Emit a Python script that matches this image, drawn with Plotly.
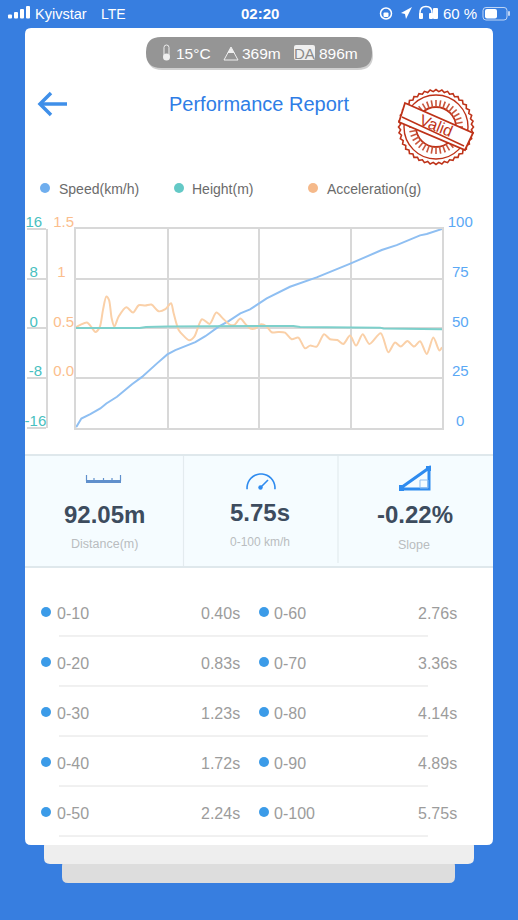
import math
import plotly.graph_objects as go

# ---- data ----
accel_t = [0, .068, .173, .236, .304, .372, .424, .477, .518, .56, .602, .67, .791, .896, .985, 1.089, 1.184, 1.299, 1.404, 1.493, 1.534, 1.613, 1.692, 1.781, 1.859, 1.98, 2.10, 2.205, 2.32, 2.425, 2.488, 2.582, 2.66, 2.739, 2.813, 2.907, 2.996, 3.074, 3.179, 3.284, 3.389, 3.493, 3.598, 3.677, 3.781, 3.897, 3.991, 4.106, 4.2, 4.305, 4.399, 4.504, 4.609, 4.787, 4.907, 5.012, 5.101, 5.206, 5.311, 5.405, 5.51, 5.614, 5.709, 5.75]
accel_g = [.51, .534, .557, .517, .463, .51, .685, .819, .786, .60, .517, .618, .712, .658, .732, .728, .739, .671, .692, .752, .651, .483, .423, .379, .416, .591, .544, .658, .591, .534, .534, .597, .544, .497, .497, .54, .517, .46, .463, .456, .389, .406, .298, .325, .315, .44, .389, .382, .342, .426, .325, .44, .342, .45, .258, .356, .315, .372, .315, .369, .241, .406, .275, .308]
speed_t = [0, .084, .225, .382, .477, .644, .88, 1.037, 1.273, 1.435, 1.561, 1.875, 2.032, 2.241, 2.398, 2.582, 2.734, 2.896, 2.996, 3.362, 3.781, 4.30, 4.803, 5.038, 5.405, 5.51, 5.75]
speed_kmh = [0, 4.5, 6.7, 9.6, 12.1, 15.5, 21.8, 25.5, 32.3, 36.8, 39, 43, 46, 50.8, 53.6, 57.5, 59.5, 62.9, 65, 70.9, 75.6, 82.4, 89.4, 91.9, 96.8, 97.5, 100]
height_t = [0, 1.0, 1.1, 1.435, 2.9, 3.415, 3.52, 4.30, 4.41, 4.776, 4.83, 5.405, 5.51, 5.75]
height_m = [.05, .05, .2, .27, .38, .38, .2, .2, .1, .1, -.05, -.1, -.16, -.16]

grid_t = [1.4375, 2.875, 4.3125]
speed_ticks = [0, 25, 50, 75, 100]
speed_labels = ["\u00a0\u00a00", "\u00a025", "\u00a050", "\u00a075", "100"]
accel_ticks = [-0.5, 0, 0.5, 1, 1.5]
accel_labels = ["", "0.0", "0.5", "1\u00a0\u00a0", "1.5"]
height_ticks = [-16, -8, 0, 8, 16]
height_labels = ["-16", "-8\u00a0", "0\u00a0\u00a0", "8\u00a0\u00a0", "16\u00a0"]

left_labels = ["0-10", "0-20", "0-30", "0-40", "0-50"]
left_times = ["0.40s", "0.83s", "1.23s", "1.72s", "2.24s"]
right_labels = ["0-60", "0-70", "0-80", "0-90", "0-100"]
right_times = ["2.76s", "3.36s", "4.14s", "4.89s", "5.75s"]

W, H = 518, 920
FONT = "Liberation Sans"
BLUE_BG = "#377EE0"
GRID = "#D8D8D8"
SPEED_C, HEIGHT_C, ACCEL_C = "#8FBFF2", "#7DD0CB", "#FAD0A8"
SPEED_T, HEIGHT_T, ACCEL_T = "#5AA8F5", "#48C0C0", "#FBBE8C"


def X(p):
    return p / W


def Y(p):
    return 1 - p / H


def path(points, close=False):
    s = "M" + " L".join(f"{X(a):.5f},{Y(b):.5f}" for a, b in points)
    return s + (" Z" if close else "")


def round_rect(x0, y0, x1, y1, r):
    return (f"M{X(x0+r):.5f},{Y(y0):.5f} L{X(x1-r):.5f},{Y(y0):.5f} Q{X(x1):.5f},{Y(y0):.5f} {X(x1):.5f},{Y(y0+r):.5f} "
            f"L{X(x1):.5f},{Y(y1-r):.5f} Q{X(x1):.5f},{Y(y1):.5f} {X(x1-r):.5f},{Y(y1):.5f} "
            f"L{X(x0+r):.5f},{Y(y1):.5f} Q{X(x0):.5f},{Y(y1):.5f} {X(x0):.5f},{Y(y1-r):.5f} "
            f"L{X(x0):.5f},{Y(y0+r):.5f} Q{X(x0):.5f},{Y(y0):.5f} {X(x0+r):.5f},{Y(y0):.5f} Z")


shapes, anns = [], []


def fill(d, color, line=None, lw=0, layer="below"):
    shapes.append(dict(type="path", path=d, xref="paper", yref="paper", fillcolor=color, layer=layer,
                       line=dict(color=line or color, width=lw)))


def stroke(d, color, lw, layer="below"):
    shapes.append(dict(type="path", path=d, xref="paper", yref="paper", layer=layer,
                       line=dict(color=color, width=lw)))


def circle(cx, cy, r, color=None, line=None, lw=0, layer="below"):
    shapes.append(dict(type="circle", xref="paper", yref="paper", x0=X(cx-r), x1=X(cx+r), y0=Y(cy+r), y1=Y(cy-r),
                       fillcolor=color or "rgba(0,0,0,0)", layer=layer, line=dict(color=line or "rgba(0,0,0,0)", width=lw)))


def text(s, x, y, size, color, anchor="left", bold=False, angle=0):
    anns.append(dict(text=f"<b>{s}</b>" if bold else s, x=X(x), y=Y(y), xref="paper", yref="paper", showarrow=False,
                     xanchor=anchor, yanchor="middle", textangle=angle, borderpad=0, borderwidth=0,
                     font=dict(family=FONT, size=size, color=color)))


# back cards
fill(round_rect(62, 860, 455, 883, 6), "#DDDDDD")
fill(round_rect(44, 840, 474, 864, 6), "#EEEEEE")
fill(round_rect(25, 28, 493, 845, 6), "#FFFFFF")

# status bar
for i, (bx, bt) in enumerate(zip([8, 14, 20, 26], [14.5, 12, 9, 6])):
    fill(round_rect(bx, bt, bx + 4, 18.5, 1), "#FFFFFF")
text("Kyivstar", 35, 13.5, 14.5, "#FFFFFF")
text("LTE", 101, 13.5, 14, "#FFFFFF")
text("02:20", 259.5, 13.5, 15, "#FFFFFF", "center", True)
circle(386, 13.5, 5.5, None, "#FFFFFF", 1.5)
fill(round_rect(383.5, 12.5, 388.5, 17, 1), "#FFFFFF")
fill(path([(401, 13), (412, 7), (406, 19), (405, 14)], True), "#FFFFFF")
stroke(f"M{X(420):.5f},{Y(18):.5f} L{X(420):.5f},{Y(13):.5f} Q{X(420):.5f},{Y(6.5):.5f} {X(426):.5f},{Y(6.5):.5f} Q{X(432):.5f},{Y(6.5):.5f} {X(432):.5f},{Y(13):.5f} L{X(432):.5f},{Y(18):.5f}", "#FFFFFF", 1.5)
fill(round_rect(419, 13, 423, 19, 1), "#FFFFFF")
fill(round_rect(429, 13, 433, 19, 1), "#FFFFFF")
fill(round_rect(433, 8, 438, 19, 1), "#FFFFFF")
text("60 %", 477, 13.5, 15, "#FFFFFF", "right")
fill(round_rect(483, 7.5, 507, 20, 3), "rgba(0,0,0,0)", "#BFD5F5", 1)
fill(round_rect(485, 9, 497, 18.5, 2), "#FFFFFF")
fill(round_rect(508, 11, 510, 16, 1), "#BFD5F5")

# condition pill
fill(round_rect(147, 40, 373, 70, 15), "rgba(120,120,120,0.35)")
fill(round_rect(146, 37, 372, 68, 15), "#959595")
fill(round_rect(164, 45, 169, 58, 2.5), "rgba(0,0,0,0)", "#EFEFEF", 1)
circle(166.5, 57, 3.5, "#EFEFEF")
text("15°C", 176, 53.5, 15.5, "#FFFFFF")
fill(path([(224, 60), (231, 47), (238, 60)], True), "rgba(0,0,0,0)", "#EFEFEF", 1)
fill(path([(227.5, 53), (231, 47), (234.5, 53)], True), "#EFEFEF")
text("369m", 242, 53.5, 15.5, "#FFFFFF")
fill(round_rect(294, 45, 315, 60, 2), "#EFEFEF")
text("DA", 304.5, 53, 15, "#8A8A8A", "center")
text("896m", 319, 53.5, 15.5, "#FFFFFF")

# header
stroke(path([(40, 104), (67, 104)]), "#3F8FE9", 3.5)
stroke(path([(51, 93), (40, 104), (51, 115)]), "#3F8FE9", 3.5)
text("Performance Report", 259, 104.5, 20, "#2F7DE6", "center")

# stamp
RED = "#BE3218"
sc, sy = 436, 127
gear = []
for k in range(80):
    a = 2 * math.pi * k / 80
    r = 37.5 if k % 2 == 0 else 35.5
    gear.append((sc + r * math.cos(a), sy + r * math.sin(a)))
fill(path(gear, True), "rgba(0,0,0,0)", RED, 1.6)
circle(sc, sy, 32, None, RED, 1.4)
circle(sc, sy, 20, None, RED, 1.8)
for k in range(36):
    a = 2 * math.pi * k / 36
    stroke(path([(sc + 20 * math.cos(a), sy + 20 * math.sin(a)), (sc + 27 * math.cos(a), sy + 27 * math.sin(a))]), "#C8553C", 1.6)
fill(path([(405, 103), (473, 133), (465, 150), (399, 122)], True), "#FFFFFF", RED, 1.8)
stroke(path([(402, 117), (464, 146)]), RED, 1.4)
text("Valid", 436, 125.5, 16, RED, "center", False, 22)

# legend
for cx, tx, col, lab in [(45, 59, "#6FAEEE", "Speed(km/h)"), (179, 192, "#64C9C6", "Height(m)"), (313, 327, "#F5B98A", "Acceleration(g)")]:
    circle(cx, 188, 5, col)
    text(lab, tx, 188.5, 14, "#6B6B6B")

# stats panel
fill(f"M{X(25):.5f},{Y(455):.5f} L{X(493):.5f},{Y(455):.5f} L{X(493):.5f},{Y(567):.5f} L{X(25):.5f},{Y(567):.5f} Z", "#F5FCFF")
stroke(path([(25, 455), (493, 455)]), "#DFE8EC", 2)
stroke(path([(25, 567), (493, 567)]), "#DFE8EC", 2)
stroke(path([(183.5, 456), (183.5, 566)]), "#E3EBEF", 1.2)
stroke(path([(338, 456), (338, 563)]), "#E3EBEF", 1.2)
text("92.05m", 104, 514.5, 24, "#3D4C5E", "center", True)
text("Distance(m)", 104, 544, 12.5, "#B9BDC0", "center")
text("5.75s", 260, 512, 24, "#3D4C5E", "center", True)
text("0-100 km/h", 260, 541.5, 12, "#B9BDC0", "center")
text("-0.22%", 415, 514.5, 24, "#3D4C5E", "center", True)
text("Slope", 414, 544.5, 12.5, "#B9BDC0", "center")
# ruler icon
fill(path([(86, 480), (121, 480), (121, 483), (86, 483)], True), "#6090CC")
for rx in [86.5, 94, 103.5, 112, 120.5]:
    stroke(path([(rx, 475 if rx in (86.5, 120.5) else 478), (rx, 481)]), "#6090CC", 1.2)
# gauge icon
arc = [(261 + 14 * math.cos(math.radians(a)), 488 - 14 * math.sin(math.radians(a))) for a in range(-5, 186, 10)]
stroke(path(arc), "#2E8BEF", 1.6)
stroke(path([(261, 487), (268, 480)]), "#2E8BEF", 1.6)
circle(260.5, 487.5, 2.2, "#2E8BEF")
# slope icon
stroke(path([(400, 488.5), (429, 468), (429, 489), (400, 489)]), "#2E8BEF", 3)
fill(round_rect(399, 485, 404, 491, 0), "#2E8BEF")
fill(round_rect(426, 466, 431, 471, 0), "#2E8BEF")
fill(path([(420, 480), (428, 480), (428, 488), (420, 488)], True), "rgba(0,0,0,0)", "#8FBEF0", 1)

# timing table
for i, y in enumerate([613, 663, 713, 763, 813]):
    circle(46, y - 1, 5, "#3B9BE8")
    circle(264, y - 1, 5, "#3B9BE8")
    text(left_labels[i], 56.5, y, 16, "#9C9C9C")
    text(left_times[i], 240, y, 16, "#9C9C9C", "right")
    text(right_labels[i], 274, y, 16, "#9C9C9C")
    text(right_times[i], 457, y, 16, "#9C9C9C", "right")
    stroke(path([(59, y + 23), (428, y + 23)]), "#E2E2E2", 1)

fig = go.Figure()
fig.add_trace(go.Scatter(x=speed_t, y=speed_kmh, yaxis="y", mode="lines", name="Speed(km/h)",
                         line=dict(color=SPEED_C, width=2)))
fig.add_trace(go.Scatter(x=accel_t, y=accel_g, yaxis="y2", mode="lines", name="Acceleration(g)",
                         line=dict(color=ACCEL_C, width=2, shape="spline", smoothing=0.8)))
fig.add_trace(go.Scatter(x=height_t, y=height_m, yaxis="y3", mode="lines", name="Height(m)",
                         line=dict(color=HEIGHT_C, width=2)))

dom = [Y(427.5), Y(229)]
fig.update_layout(
    width=W, height=H, margin=dict(l=0, r=0, t=0, b=0, pad=0), autosize=False,
    paper_bgcolor=BLUE_BG, plot_bgcolor="rgba(0,0,0,0)", showlegend=False, hovermode=False,
    font=dict(family=FONT), shapes=shapes, annotations=anns,
    xaxis=dict(automargin=False, domain=[X(76), X(442)], range=[0, 5.75], tickmode="array", tickvals=grid_t, showticklabels=False,
               ticks="", showgrid=True, gridcolor=GRID, gridwidth=1.5, zeroline=False, showline=True,
               linecolor=GRID, linewidth=1.5, mirror=True),
    yaxis=dict(automargin=False, domain=dom, range=[0, 100], side="right", tickmode="array", tickvals=speed_ticks, ticktext=speed_labels,
               ticks="", showgrid=True, gridcolor=GRID, gridwidth=1.5, zeroline=False, showline=True, mirror=True,
               linecolor=GRID, linewidth=1.5,
               tickfont=dict(family=FONT, size=15, color=SPEED_T), ticklabelshift=-7, ticklabelstandoff=1),
    yaxis2=dict(automargin=False, domain=dom, range=[-0.5, 1.5], overlaying="y", side="left", tickmode="array", tickvals=accel_ticks,
                ticktext=accel_labels, ticks="", showgrid=False, zeroline=False, showline=False,
                tickfont=dict(family=FONT, size=15, color=ACCEL_T), ticklabelshift=-7, ticklabelstandoff=1),
    yaxis3=dict(automargin=False, domain=dom, range=[-16, 16], overlaying="y", side="left", anchor="free", position=X(47),
                tickmode="array", tickvals=height_ticks, ticktext=height_labels, ticks="outside", ticklen=19,
                tickcolor=GRID, tickwidth=1.5, showgrid=False, zeroline=False, showline=True, linecolor=GRID,
                linewidth=1.5, tickfont=dict(family=FONT, size=15, color=HEIGHT_T), ticklabelshift=-7,
                ticklabelstandoff=-22),
)

fig.write_html(
    "out.html",
    config={"displayModeBar": False, "responsive": False},
    post_script=("document.body.style.margin='0';document.body.style.background='#377EE0';"
                 "document.documentElement.style.overflow='hidden';"),
)
